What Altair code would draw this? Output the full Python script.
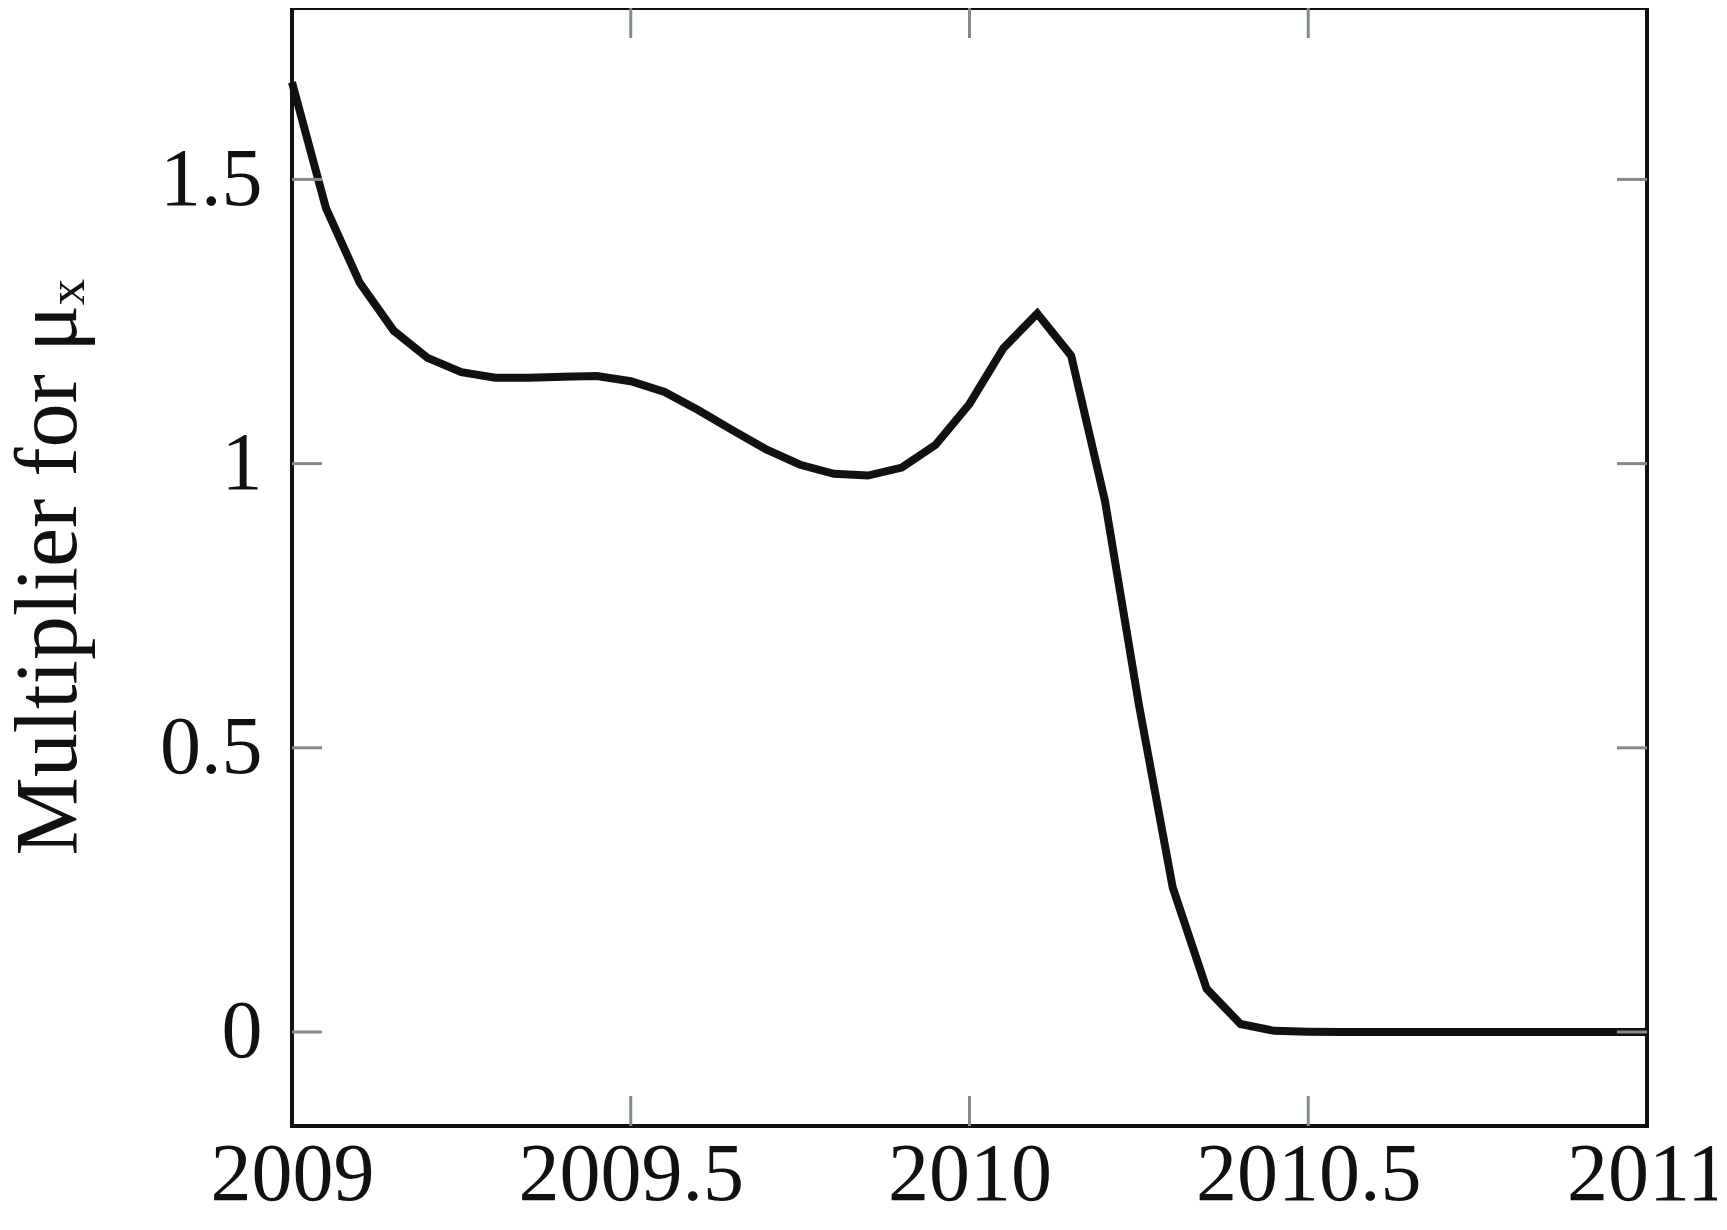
import altair as alt
import pandas as pd

years = [2009.00, 2009.05, 2009.10, 2009.15, 2009.20, 2009.25, 2009.30, 2009.35,
         2009.40, 2009.45, 2009.50, 2009.55, 2009.60, 2009.65, 2009.70, 2009.75,
         2009.80, 2009.85, 2009.90, 2009.95, 2010.00, 2010.05, 2010.10, 2010.15,
         2010.20, 2010.25, 2010.30, 2010.35, 2010.40, 2010.45, 2010.50, 2010.55,
         2010.60, 2010.65, 2010.70, 2010.75, 2010.80, 2010.85, 2010.90, 2010.95,
         2011.00]
multiplier = [1.671, 1.450, 1.318, 1.234, 1.186, 1.161, 1.151, 1.151,
              1.153, 1.154, 1.145, 1.126, 1.094, 1.059, 1.025, 0.998,
              0.982, 0.979, 0.993, 1.033, 1.105, 1.203, 1.264, 1.190,
              0.934, 0.576, 0.254, 0.076, 0.014, 0.002, 0.0005, 0.0,
              0.0, 0.0, 0.0, 0.0, 0.0, 0.0, 0.0, 0.0,
              0.0]
x_ticks = [2009, 2009.5, 2010, 2010.5, 2011]
x_inner_ticks = [2009.5, 2010, 2010.5]
y_ticks = [0, 0.5, 1, 1.5]

W, H = 1355, 1118
TICK = 30
FONT = "Liberation Serif"
TICK_COLOR = "#808c8c"

df = pd.DataFrame({"year": years, "mult": multiplier})
xt = pd.DataFrame({"t": x_inner_ticks})
yt = pd.DataFrame({"t": y_ticks})

xscale = alt.Scale(domain=[2009, 2011], nice=False, zero=False)
yscale = alt.Scale(domain=[-0.1654, 1.8016], nice=False, zero=False)

xaxis = alt.Axis(values=x_ticks, format="~g", tickSize=0, domain=False,
                 grid=False, labelFont=FONT, labelFontSize=82,
                 labelColor="#111111", labelPadding=8, labelFlush=False,
                 labelOverlap=False, labelLimit=0, title=None)
yaxis = alt.Axis(values=y_ticks, format="~g", tickSize=0, domain=False,
                 grid=False, labelFont=FONT, labelFontSize=82,
                 labelColor="#111111", labelPadding=30, labelFlush=False,
                 labelOverlap=False, labelLimit=0,
                 title="Multiplier for μₓ", titleFont=FONT,
                 titleFontSize=88, titleFontWeight="normal", titleLimit=0,
                 titleColor="#111111", titleX=-217, titleY=H / 2,
                 titleBaseline="alphabetic", titleAlign="center",
                 titleAngle=-90)

line = alt.Chart(df).mark_line(color="#111111", strokeWidth=8).encode(
    x=alt.X("year:Q", scale=xscale, axis=xaxis),
    y=alt.Y("mult:Q", scale=yscale, axis=yaxis),
)

xb = alt.Chart(xt).mark_rule(color=TICK_COLOR, strokeWidth=3).encode(
    x=alt.X("t:Q", scale=xscale, axis=xaxis), y=alt.value(H), y2=alt.value(H - TICK))
xtop = alt.Chart(xt).mark_rule(color=TICK_COLOR, strokeWidth=3).encode(
    x=alt.X("t:Q", scale=xscale, axis=xaxis), y=alt.value(0), y2=alt.value(TICK))
yl = alt.Chart(yt).mark_rule(color=TICK_COLOR, strokeWidth=3).encode(
    y=alt.Y("t:Q", scale=yscale, axis=yaxis), x=alt.value(0), x2=alt.value(TICK))
yr = alt.Chart(yt).mark_rule(color=TICK_COLOR, strokeWidth=3).encode(
    y=alt.Y("t:Q", scale=yscale, axis=yaxis), x=alt.value(W - TICK), x2=alt.value(W))

chart = alt.layer(line, xb, xtop, yl, yr).properties(
    width=W, height=H,
    autosize=alt.AutoSizeParams(type="none"),
    padding={"left": 284, "top": 0, "right": 70, "bottom": 100},
    background="white",
).configure_view(stroke="#111111", strokeWidth=4)

chart.save("out.html", embed_options={"renderer": "svg", "actions": False})
